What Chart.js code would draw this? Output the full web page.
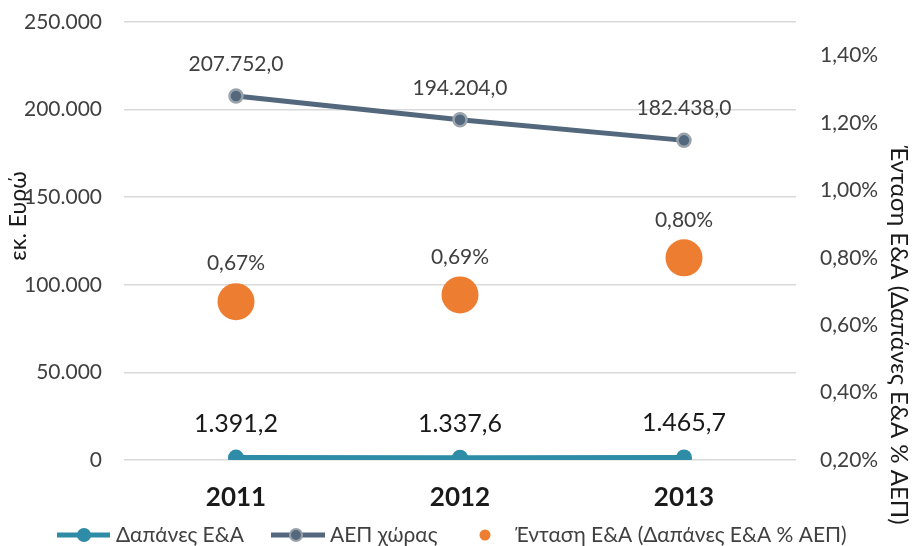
<!DOCTYPE html>
<html>
<head>
<meta charset="utf-8">
<script src="https://cdn.jsdelivr.net/npm/chart.js@4"></script>
<style>
  html, body { margin: 0; padding: 0; background: #ffffff; }
  #wrap { width: 912px; height: 546px; position: relative; }
</style>
</head>
<body>
<div id="wrap"><canvas id="chart" width="912" height="546"></canvas></div>
<script>
// Δεδομένα
const years = ['2011', '2012', '2013'];
const rdSpend = [1391.2, 1337.6, 1465.7];      // Δαπάνες Ε&Α (εκ. Ευρώ)
const gdp = [207752.0, 194204.0, 182438.0];    // ΑΕΠ χώρας (εκ. Ευρώ)
const intensity = [0.67, 0.69, 0.80];          // Ένταση Ε&Α (%)
const leftTicks = [0, 50000, 100000, 150000, 200000, 250000];
const rightTicks = [0.2, 0.4, 0.6, 0.8, 1.0, 1.2, 1.4];

const FONT = 'Lato, "Open Sans", sans-serif';
const TEAL = '#2E8CA6';
const SLATE = '#53687C';
const ORANGE = '#ED7D31';
const TEXT = '#404040';

// Μορφοποίηση αριθμών (ελληνικά: . για χιλιάδες, , για δεκαδικά)
function fmtNum(v, dec) {
    const parts = v.toFixed(dec).split('.');
    parts[0] = parts[0].replace(/\B(?=(\d{3})+(?!\d))/g, '.');
    return parts.join(',');
}

// Ετικέτες τιμών πάνω από τα σημεία
const valueLabels = {
    id: 'valueLabels',
    afterDatasetsDraw(chart) {
        const ctx = chart.ctx;
        ctx.save();
        ctx.textAlign = 'center';
        ctx.textBaseline = 'middle';
        chart.data.datasets.forEach((ds, i) => {
            const meta = chart.getDatasetMeta(i);
            meta.data.forEach((pt, j) => {
                let text, offset, size, color;
                if (i === 0) { text = fmtNum(ds.data[j], 1); offset = 34; size = 25; color = '#1a1a1a'; }
                else if (i === 1) { text = fmtNum(ds.data[j], 1); offset = 32; size = 21; color = TEXT; }
                else { text = fmtNum(ds.data[j], 2) + '%'; offset = 38; size = 21; color = TEXT; }
                ctx.font = size + 'px ' + FONT;
                ctx.fillStyle = color;
                ctx.fillText(text, pt.x, pt.y - offset);
            });
        });
        ctx.restore();
    }
};

// Τίτλοι αξόνων και υπόμνημα
const extras = {
    id: 'extras',
    afterDraw(chart) {
        const ctx = chart.ctx;
        ctx.save();
        ctx.fillStyle = '#1a1a1a';
        ctx.textAlign = 'center';
        ctx.textBaseline = 'middle';

        // αριστερός τίτλος
        ctx.font = '23px ' + FONT;
        ctx.save();
        ctx.translate(19, 216);
        ctx.rotate(-Math.PI / 2);
        ctx.fillText('εκ. Ευρώ', 0, 0);
        ctx.restore();

        // δεξιός τίτλος
        ctx.font = '24px ' + FONT;
        ctx.save();
        ctx.translate(899, 335);
        ctx.rotate(Math.PI / 2);
        ctx.fillText('Ένταση Ε&Α (Δαπάνες Ε&Α % ΑΕΠ)', 0, 0);
        ctx.restore();

        // υπόμνημα
        const y = 535;
        ctx.font = '21px ' + FONT;
        ctx.textAlign = 'left';

        ctx.lineWidth = 5;
        ctx.strokeStyle = TEAL;
        ctx.beginPath(); ctx.moveTo(57, y); ctx.lineTo(110, y); ctx.stroke();
        ctx.fillStyle = TEAL;
        ctx.beginPath(); ctx.arc(84, y, 7, 0, Math.PI * 2); ctx.fill();
        ctx.fillStyle = TEXT;
        ctx.fillText('Δαπάνες Ε&Α', 116, y);

        ctx.lineWidth = 5;
        ctx.strokeStyle = SLATE;
        ctx.beginPath(); ctx.moveTo(271, y); ctx.lineTo(325, y); ctx.stroke();
        ctx.fillStyle = SLATE;
        ctx.beginPath(); ctx.arc(296, y, 6, 0, Math.PI * 2); ctx.fill();
        ctx.strokeStyle = '#9aa3ab';
        ctx.lineWidth = 2;
        ctx.stroke();
        ctx.fillStyle = TEXT;
        ctx.fillText('ΑΕΠ χώρας', 330, y);

        ctx.fillStyle = ORANGE;
        ctx.beginPath(); ctx.arc(485, y, 5.5, 0, Math.PI * 2); ctx.fill();
        ctx.fillStyle = TEXT;
        ctx.fillText('Ένταση Ε&Α (Δαπάνες Ε&Α % ΑΕΠ)', 515, y);
        ctx.restore();
    }
};

// Χωρίς επιπλέον κενό πάνω/κάτω από τους κάθετους άξονες
function fixVertical(axis, width) {
    axis.width = width;
    axis.paddingTop = 0;
    axis.paddingBottom = 0;
}

new Chart(document.getElementById('chart'), {
    type: 'line',
    data: {
        labels: years,
        datasets: [
            {
                label: 'Δαπάνες Ε&Α',
                data: rdSpend,
                yAxisID: 'y',
                borderColor: TEAL,
                backgroundColor: TEAL,
                borderWidth: 5,
                pointRadius: 8,
                pointBorderWidth: 0,
                pointBackgroundColor: TEAL
            },
            {
                label: 'ΑΕΠ χώρας',
                data: gdp,
                yAxisID: 'y',
                borderColor: SLATE,
                backgroundColor: SLATE,
                borderWidth: 5,
                pointRadius: 6.5,
                pointBorderWidth: 2.5,
                pointBorderColor: '#9aa3ab',
                pointBackgroundColor: SLATE
            },
            {
                label: 'Ένταση Ε&Α (Δαπάνες Ε&Α % ΑΕΠ)',
                data: intensity,
                yAxisID: 'y2',
                showLine: false,
                borderColor: ORANGE,
                backgroundColor: ORANGE,
                pointRadius: 18.5,
                pointBorderWidth: 0,
                pointBackgroundColor: ORANGE
            }
        ]
    },
    options: {
        responsive: false,
        animation: false,
        layout: { padding: { top: 22, left: 0, right: 0, bottom: 0 } },
        plugins: {
            legend: { display: false },
            tooltip: { enabled: false }
        },
        scales: {
            x: {
                offset: true,
                grid: { display: false, drawTicks: false },
                border: { display: false },
                ticks: {
                    padding: 22,
                    color: '#1a1a1a',
                    font: { family: FONT, size: 26, weight: 'bold' }
                },
                afterFit(axis) { axis.height = 86; }
            },
            y: {
                position: 'left',
                min: 0,
                max: 250000,
                afterBuildTicks(axis) { axis.ticks = leftTicks.map(v => ({ value: v })); },
                grid: { color: '#d9d9d9', lineWidth: 1.5, drawTicks: false },
                border: { display: false },
                ticks: {
                    padding: 22,
                    color: TEXT,
                    font: { family: FONT, size: 21 },
                    callback: v => fmtNum(v, 0)
                },
                afterFit(axis) { fixVertical(axis, 124); }
            },
            y2: {
                position: 'right',
                min: 0.2,
                max: 1.5,
                afterBuildTicks(axis) { axis.ticks = rightTicks.map(v => ({ value: v })); },
                grid: { display: false, drawTicks: false },
                border: { display: false },
                ticks: {
                    padding: 24,
                    color: TEXT,
                    font: { family: FONT, size: 21 },
                    callback: v => fmtNum(v, 2) + '%'
                },
                afterFit(axis) { fixVertical(axis, 116); }
            }
        }
    },
    plugins: [valueLabels, extras]
});
</script>
</body>
</html>
